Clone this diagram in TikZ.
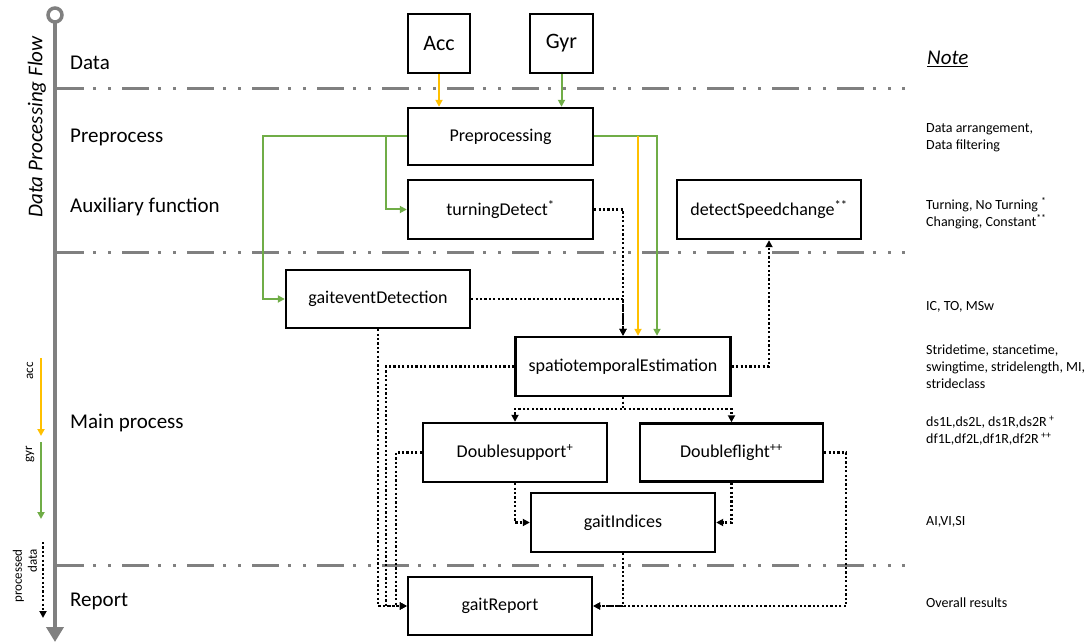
\documentclass[tikz,border=0pt]{standalone}
\usepackage{fontspec}
\setmainfont{Carlito}
\usetikzlibrary{arrows.meta,calc}
\definecolor{accor}{HTML}{FFC000}
\definecolor{gyrgr}{HTML}{70AD47}
\definecolor{axgray}{HTML}{808080}
\begin{document}
\begin{tikzpicture}[x=1pt,y=-1pt,
  box/.style={draw=black,line width=2.4pt,fill=white,inner sep=0pt,font=\fontsize{18}{21}\selectfont},
  sec/.style={anchor=west,inner sep=0pt,font=\fontsize{21}{25}\selectfont},
  note/.style={anchor=west,align=left,inner sep=0pt,font=\fontsize{14}{17}\selectfont},
  gline/.style={draw=gyrgr,line width=2pt},
  garr/.style={gline,-{Triangle[length=7pt,width=7pt]}},
  oline/.style={draw=accor,line width=2pt},
  oarr/.style={oline,-{Triangle[length=7pt,width=7pt]}},
  dline/.style={draw=black,line width=2.2pt,dash pattern=on 2.2pt off 2.2pt},
  darr/.style={dline,-{Triangle[length=7pt,width=7pt]}},
  sepline/.style={draw=axgray,line width=3pt,dash pattern=on 27pt off 9pt on 3pt off 12pt on 3pt off 11pt},
  legend/.style={rotate=90,inner sep=0pt,font=\fontsize{13}{15}\selectfont}
]
\path[use as bounding box] (0,0) rectangle (1090,644);

% separators
\draw[sepline] (57,89) -- (905,89);
\draw[sepline] (57,253) -- (905,253);
\draw[sepline] (57,565) -- (905,565);

% axis
\draw[axgray,line width=4.5pt,-{Triangle[length=15pt,width=17pt]}] (55,22) -- (55,642);
\draw[axgray,line width=3.5pt,fill=white] (55,15) circle (7pt);
\node[rotate=90,inner sep=0pt,font=\itshape\fontsize{21}{25}\selectfont] (title) at (37,127) {Data Processing Flow};

% section labels
\node[sec] (sData) at (70,63) {Data};
\node[sec] (sPre) at (70,137) {Preprocess};
\node[sec] (sAux) at (70,207) {Auxiliary function};
\node[sec] (sMain) at (70,423) {Main process};
\node[sec] (sRep) at (70,601) {Report};

% legend
\coordinate (la1) at (41,358); \coordinate (la2) at (41,436);
\coordinate (lg1) at (41,442); \coordinate (lg2) at (41,519);
\coordinate (lp1) at (43,542); \coordinate (lp2) at (43,618);
\draw[oarr] (la1) -- (la2);
\draw[garr] (lg1) -- (lg2);
\draw[darr] (lp1) -- (lp2);
\node[legend] (lacc) at (30,371) {acc};
\node[legend] (lgyr) at (30,454) {gyr};
\node[legend,align=right] (lproc) at (25,576) {processed\\data};

% boxes
\node[box,minimum width=62pt,minimum height=59pt,font=\fontsize{22}{26}\selectfont] (acc) at (439,43.5) {Acc};
\node[box,minimum width=63pt,minimum height=59pt,font=\fontsize{22}{26}\selectfont] (gyr) at (561.5,43.5) {Gyr};
\node[box,minimum width=185pt,minimum height=57pt] (pre) at (500.5,136.5) {Preprocessing};
\node[box,minimum width=185pt,minimum height=59pt] (turn) at (500.5,209.5) {turningDetect\textsuperscript{*}};
\node[box,minimum width=184pt,minimum height=59pt] (speed) at (769,209.5) {detectSpeedchange\textsuperscript{**}};
\node[box,minimum width=184pt,minimum height=58pt] (gait) at (378,299) {gaiteventDetection};
\node[box,minimum width=215pt,minimum height=59pt] (spatio) at (623,366.5) {spatiotemporalEstimation};
\node[box,minimum width=184pt,minimum height=59pt] (ds) at (515,452.5) {Doublesupport\textsuperscript{+}};
\node[box,minimum width=183pt,minimum height=58pt] (df) at (731.5,452.5) {Doubleflight\textsuperscript{++}};
\node[box,minimum width=184pt,minimum height=59pt] (gi) at (623,522.5) {gaitIndices};
\node[box,minimum width=184pt,minimum height=58pt] (rep) at (500,606) {gaitReport};

% coloured connectors
\draw[oarr] (acc.south) -- (acc.south |- pre.north);
\draw[garr] (gyr.south) -- (gyr.south |- pre.north);
\draw[garr] (pre.west) -- ++(-144,0) |- (gait.west);
\draw[garr] (pre.west) -- ++(-21,0) |- (turn.west);
\coordinate (sG) at ($(spatio.north)+(34,0)$);
\coordinate (sO) at ($(spatio.north)+(15,0)$);
\draw[garr] (pre.east) -| (sG);
\draw[oarr] (sO |- pre.east) -- (sO);

% dotted connectors
\draw[darr] (turn.east) -| (spatio.north);
\draw[darr] (gait.east) -| (spatio.north);
\draw[darr] (spatio.east) -| (speed.south);
\draw[darr] (spatio.west) -- ++(-128,0) |- (rep.west);
\draw[darr] (gait.south) |- (rep.west);
\draw[darr] (ds.west) -- ++(-26,0) |- (rep.west);
\draw[darr] (spatio.south) -- ++(0,12) -| (ds.north);
\draw[darr] (spatio.south) -- ++(0,12) -| (df.north);
\draw[darr] (ds.south) |- (gi.west);
\draw[darr] (df.south) |- (gi.east);
\draw[darr] (gi.south) |- (rep.east);
\draw[darr] (df.east) -- ++(22,0) |- (rep.east);

% notes
\node[anchor=west,inner sep=0pt,font=\itshape\fontsize{21}{25}\selectfont] (notehd) at (927,59) {\underline{Note}};
\node[note] (n1) at (926,138) {Data arrangement,\\Data filtering};
\node[note] (n2) at (926,213) {Turning, No Turning \textsuperscript{*}\\Changing, Constant\textsuperscript{**}};
\node[note] (n3) at (926,307) {IC, TO, MSw};
\node[note] (n4) at (926,367) {Stridetime, stancetime,\\swingtime, stridelength, MI,\\strideclass};
\node[note] (n5) at (926,431) {ds1L,ds2L, ds1R,ds2R\,\textsuperscript{+}\\df1L,df2L,df1R,df2R\,\textsuperscript{++}};
\node[note] (n6) at (926,522) {AI,VI,SI};
\node[note] (n7) at (926,603) {Overall results};
\end{tikzpicture}
\end{document}
